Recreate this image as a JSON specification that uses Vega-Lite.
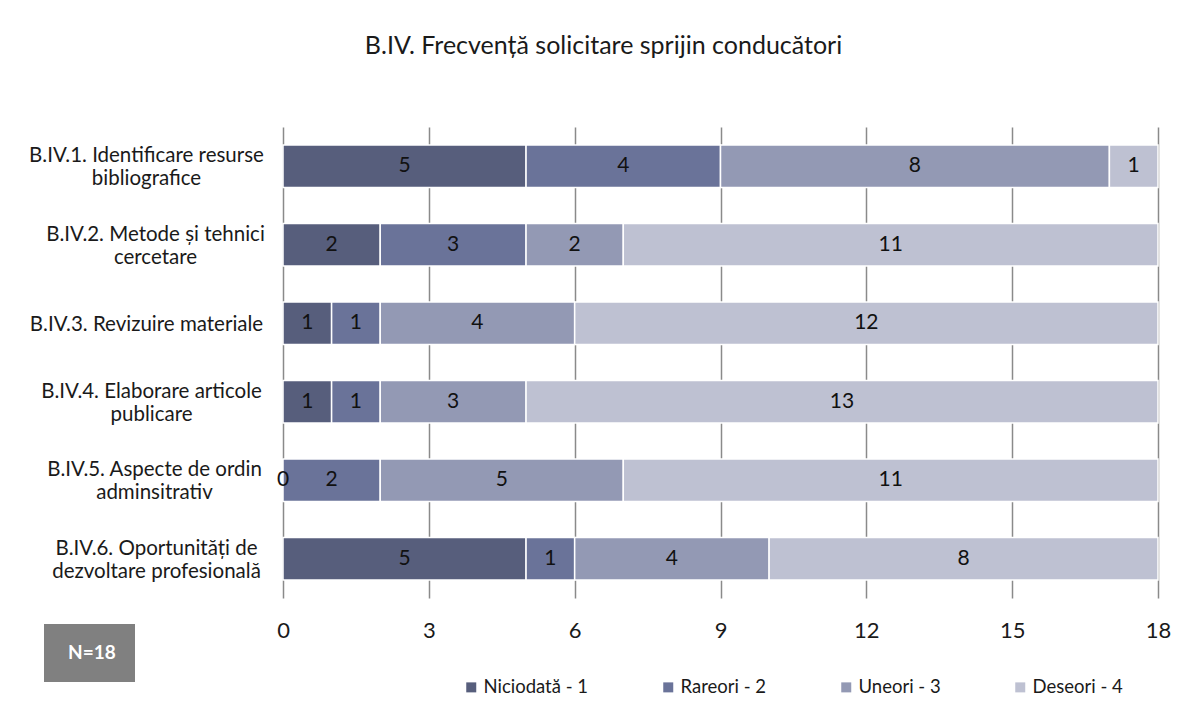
{
  "$schema": "https://vega.github.io/schema/vega-lite/v6.json",
  "width": 875,
  "height": 471,
  "autosize": "none",
  "padding": {"left": 283, "top": 127, "right": 33, "bottom": 113},
  "background": "white",
  "config": {"font": "Lato", "view": {"stroke": null}},
  "title": {
    "text": "B.IV. Frecvență solicitare sprijin conducători",
    "fontSize": 25,
    "fontWeight": "normal",
    "color": "#1a1a1a",
    "anchor": "middle",
    "frame": "group",
    "dx": -117,
    "offset": 68
  },
  "data": {
    "values": [
      {"item": "B.IV.1. Identificare resurse|bibliografice", "categorie": "Niciodată - 1", "cod": 1, "valoare": 5},
      {"item": "B.IV.1. Identificare resurse|bibliografice", "categorie": "Rareori - 2", "cod": 2, "valoare": 4},
      {"item": "B.IV.1. Identificare resurse|bibliografice", "categorie": "Uneori - 3", "cod": 3, "valoare": 8},
      {"item": "B.IV.1. Identificare resurse|bibliografice", "categorie": "Deseori - 4", "cod": 4, "valoare": 1},
      {"item": "B.IV.2. Metode și tehnici|cercetare", "categorie": "Niciodată - 1", "cod": 1, "valoare": 2},
      {"item": "B.IV.2. Metode și tehnici|cercetare", "categorie": "Rareori - 2", "cod": 2, "valoare": 3},
      {"item": "B.IV.2. Metode și tehnici|cercetare", "categorie": "Uneori - 3", "cod": 3, "valoare": 2},
      {"item": "B.IV.2. Metode și tehnici|cercetare", "categorie": "Deseori - 4", "cod": 4, "valoare": 11},
      {"item": "B.IV.3. Revizuire materiale", "categorie": "Niciodată - 1", "cod": 1, "valoare": 1},
      {"item": "B.IV.3. Revizuire materiale", "categorie": "Rareori - 2", "cod": 2, "valoare": 1},
      {"item": "B.IV.3. Revizuire materiale", "categorie": "Uneori - 3", "cod": 3, "valoare": 4},
      {"item": "B.IV.3. Revizuire materiale", "categorie": "Deseori - 4", "cod": 4, "valoare": 12},
      {"item": "B.IV.4. Elaborare articole|publicare", "categorie": "Niciodată - 1", "cod": 1, "valoare": 1},
      {"item": "B.IV.4. Elaborare articole|publicare", "categorie": "Rareori - 2", "cod": 2, "valoare": 1},
      {"item": "B.IV.4. Elaborare articole|publicare", "categorie": "Uneori - 3", "cod": 3, "valoare": 3},
      {"item": "B.IV.4. Elaborare articole|publicare", "categorie": "Deseori - 4", "cod": 4, "valoare": 13},
      {"item": "B.IV.5. Aspecte de ordin|adminsitrativ", "categorie": "Niciodată - 1", "cod": 1, "valoare": 0},
      {"item": "B.IV.5. Aspecte de ordin|adminsitrativ", "categorie": "Rareori - 2", "cod": 2, "valoare": 2},
      {"item": "B.IV.5. Aspecte de ordin|adminsitrativ", "categorie": "Uneori - 3", "cod": 3, "valoare": 5},
      {"item": "B.IV.5. Aspecte de ordin|adminsitrativ", "categorie": "Deseori - 4", "cod": 4, "valoare": 11},
      {"item": "B.IV.6. Oportunități de|dezvoltare profesională", "categorie": "Niciodată - 1", "cod": 1, "valoare": 5},
      {"item": "B.IV.6. Oportunități de|dezvoltare profesională", "categorie": "Rareori - 2", "cod": 2, "valoare": 1},
      {"item": "B.IV.6. Oportunități de|dezvoltare profesională", "categorie": "Uneori - 3", "cod": 3, "valoare": 4},
      {"item": "B.IV.6. Oportunități de|dezvoltare profesională", "categorie": "Deseori - 4", "cod": 4, "valoare": 8}
    ]
  },
  "transform": [
    {"stack": "valoare", "groupby": ["item"], "sort": [{"field": "cod", "order": "ascending"}], "as": ["x0", "x1"]},
    {"calculate": "(datum.x0 + datum.x1) / 2", "as": "xm"}
  ],
  "encoding": {
    "y": {
      "field": "item",
      "type": "nominal",
      "sort": null,
      "scale": {"paddingInner": 0.46, "paddingOuter": 0.23},
      "axis": {
        "title": null,
        "labelExpr": "split(datum.label, '|')",
        "labelAlign": "center",
        "labelBaseline": "middle",
        "labelPadding": {
          "condition": [
            {"test": "indexof(datum.value, 'B.IV.2.') == 0", "value": 128},
            {"test": "indexof(datum.value, 'B.IV.4.') == 0", "value": 132},
            {"test": "indexof(datum.value, 'B.IV.5.') == 0", "value": 129},
            {"test": "indexof(datum.value, 'B.IV.6.') == 0", "value": 127}
          ],
          "value": 137
        },
        "labelOffset": {
          "condition": {"test": "indexof(datum.value, '|') >= 0", "value": -10},
          "value": 2
        },
        "ticks": false,
        "tickSize": 0,
        "domain": false,
        "grid": false,
        "labelFontSize": 20.5,
        "labelLineHeight": 23,
        "labelColor": "#1a1a1a",
        "labelLimit": 400
      }
    }
  },
  "layer": [
    {
      "mark": {"type": "bar", "stroke": "white", "strokeWidth": 1.5},
      "encoding": {
        "x": {
          "field": "x0",
          "type": "quantitative",
          "scale": {"domain": [0, 18], "nice": false},
          "axis": {
            "title": null,
            "values": [0, 3, 6, 9, 12, 15, 18],
            "grid": true,
            "gridColor": "#8a8a8a",
            "gridWidth": 1.5,
            "domain": false,
            "ticks": false,
            "tickSize": 0,
            "labelFontSize": 22,
            "labelPadding": 22,
            "labelColor": "#1a1a1a",
            "labelFlush": false
          }
        },
        "x2": {"field": "x1"},
        "color": {
          "field": "categorie",
          "type": "nominal",
          "scale": {
            "domain": ["Niciodată - 1", "Rareori - 2", "Uneori - 3", "Deseori - 4"],
            "range": ["#575e7c", "#6a7399", "#9399b4", "#bec1d2"]
          },
          "legend": {
            "title": null,
            "orient": "none",
            "direction": "horizontal",
            "legendX": 179,
            "legendY": 551,
            "symbolType": "square",
            "symbolSize": 100,
            "symbolStrokeWidth": 0,
            "labelFontSize": 18.5,
            "labelColor": "#1a1a1a",
            "labelOffset": 3,
            "columnPadding": 70
          }
        },
        "opacity": {
          "datum": "N=18",
          "type": "nominal",
          "scale": {"range": [1]},
          "legend": {
            "title": null,
            "orient": "none",
            "legendX": -239,
            "legendY": 497,
            "fillColor": "#808080",
            "padding": 19,
            "symbolSize": 0,
            "symbolOpacity": 0,
            "symbolStrokeWidth": 0,
            "labelOffset": -14,
            "labelColor": "white",
            "labelFontWeight": "bold",
            "labelFontSize": 19
          }
        }
      }
    },
    {
      "mark": {"type": "text", "fontSize": 21, "color": "#111111", "baseline": "middle"},
      "encoding": {
        "x": {"field": "xm", "type": "quantitative"},
        "text": {"field": "valoare", "type": "quantitative"}
      }
    }
  ]
}
